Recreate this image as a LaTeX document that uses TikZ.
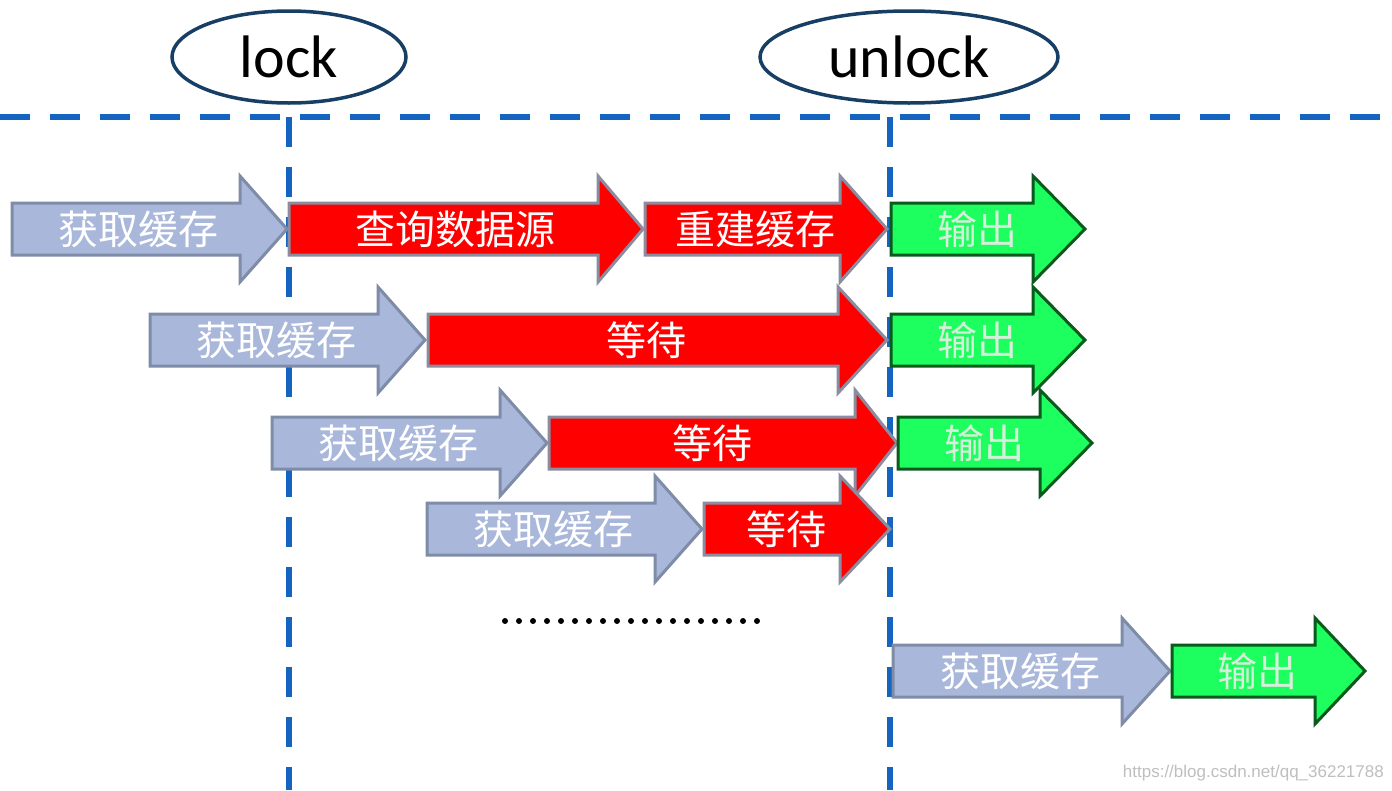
\documentclass[tikz,border=0pt]{standalone}
\usepackage{fontspec}
\setmainfont{Carlito}
\newfontfamily\cjk{Noto Sans CJK SC}
\newfontfamily\wmfont{Liberation Sans}
\usetikzlibrary{shapes.geometric}
\definecolor{dashblue}{HTML}{1565C0}
\definecolor{ellblue}{HTML}{173F66}
\definecolor{bfill}{HTML}{A9B7DB}
\definecolor{bdraw}{HTML}{7F8CA8}
\definecolor{rfill}{HTML}{FF0000}
\definecolor{rdraw}{HTML}{8C8CA0}
\definecolor{gfill}{HTML}{1CFF5E}
\definecolor{gdraw}{HTML}{0A5A1E}
\definecolor{gtext}{HTML}{D5F0D8}
\tikzset{
  sep/.style={dashblue, line width=6pt, dash pattern=on 30pt off 20pt},
  ell/.style={ellipse, draw=ellblue, line width=3.5pt, fill=white, inner sep=0pt,
    minimum height=92pt, font=\fontsize{60}{64}\selectfont},
  blueA/.style={fill=bfill, draw=bdraw, line width=3pt, line join=miter},
  blueT/.style={text=white},
  redA/.style={fill=rfill, draw=rdraw, line width=3pt, line join=miter},
  redT/.style={text=white},
  greenA/.style={fill=gfill, draw=gdraw, line width=3pt, line join=miter},
  greenT/.style={text=gtext},
  lbl/.style={font=\cjk\fontsize{40}{44}\selectfont, inner sep=0pt},
  dot/.style={circle, fill=black, inner sep=0pt, minimum size=6pt}
}
% #1 name, #2 style prefix, #3 left, #4 head base, #5 tip, #6 centre y, #7 text
\newcommand\flowarrow[7]{%
  \draw[#2A] (#3,#6-26) -- (#4,#6-26) -- (#4,#6-53) -- (#5,#6) -- (#4,#6+53)
    -- (#4,#6+26) -- (#3,#6+26) -- cycle;
  \node[lbl,#2T] (#1) at ({(#3+#5)/2-11},#6) {#7};
}
\begin{document}
\begin{tikzpicture}[x=1pt,y=-1pt]
\useasboundingbox[fill=white] (0,0) rectangle (1392,790);
% separators
\coordinate (hl) at (0,117);
\coordinate (hr) at (1392,117);
\coordinate (v1t) at (289,117);
\coordinate (v1b) at (289,790);
\coordinate (v2t) at (890,117);
\coordinate (v2b) at (890,790);
\draw[sep] (hl) -- (hr);
\draw[sep] (v1t) -- (v1b);
\draw[sep] (v2t) -- (v2b);
% labels
\node[ell, minimum width=234pt] (lock) at (289,57) {lock};
\node[ell, minimum width=298pt] (unlock) at (909,57) {unlock};
% row 1
\flowarrow{b1}{blue}{12}{240}{287}{229}{获取缓存}
\flowarrow{r1}{red}{289}{598}{643}{229}{查询数据源}
\flowarrow{r1b}{red}{645}{840}{887}{229}{重建缓存}
\flowarrow{g1}{green}{891}{1033}{1085}{229}{输出}
% row 2
\flowarrow{b2}{blue}{150}{378}{425}{340}{获取缓存}
\flowarrow{r2}{red}{428}{838}{887}{340}{等待}
\flowarrow{g2}{green}{891}{1033}{1085}{340}{输出}
% row 3
\flowarrow{b3}{blue}{272}{500}{547}{443}{获取缓存}
\flowarrow{r3}{red}{549}{855}{897}{443}{等待}
\flowarrow{g3}{green}{898}{1040}{1092}{443}{输出}
% row 4
\flowarrow{b4}{blue}{427}{655}{702}{529}{获取缓存}
\flowarrow{r4}{red}{704}{840}{890}{529}{等待}
% dots
\foreach \i in {0,...,18} {\node[dot] (d\i) at ({505+\i*14},621) {};}
% row 5
\flowarrow{b5}{blue}{893}{1122}{1170}{671}{获取缓存}
\flowarrow{g5}{green}{1172}{1315}{1365}{671}{输出}
% watermark
\node[font=\wmfont\fontsize{17}{19}\selectfont, text=black!25, anchor=east, inner sep=0pt] (wm) at (1384,773) {https://blog.csdn.net/qq\_36221788};
\end{tikzpicture}
\end{document}
